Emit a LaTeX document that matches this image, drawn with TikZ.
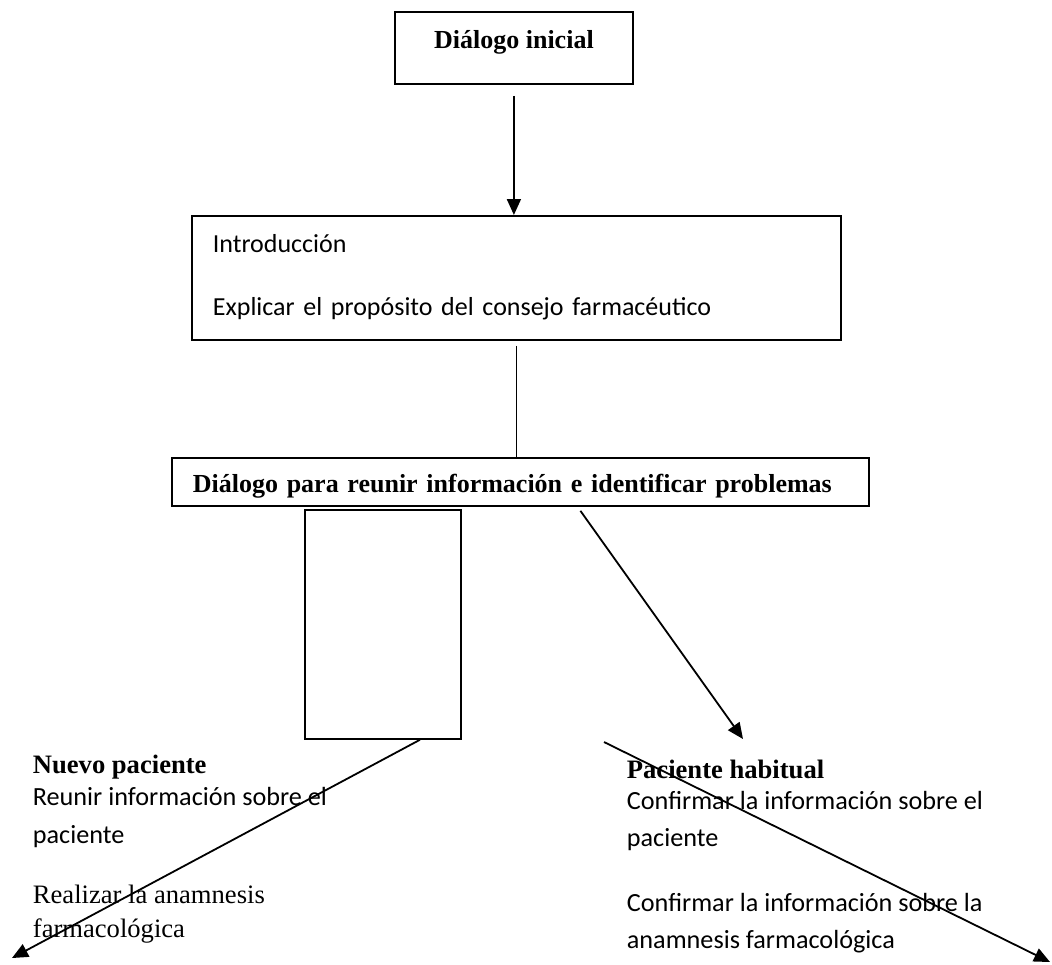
\documentclass[tikz,border=0pt]{standalone}
\usepackage{fontspec}
\setmainfont{Liberation Serif}
\newfontfamily\calibri{Carlito}
\usetikzlibrary{arrows.meta,positioning}

\begin{document}
\begin{tikzpicture}[
  x=0.5pt, y=-0.5pt,
  >={Triangle[length=8pt,width=7pt]},
  every node/.style={line width=0.9pt},
  titlebox/.style={draw, anchor=north west, inner ysep=0pt, font=\fontsize{13}{16}\selectfont\bfseries},
  textbox/.style={draw, anchor=north west, align=left, inner xsep=10.5pt, inner ysep=0pt, font=\calibri\fontsize{13}{31.5}\selectfont},
  emptybox/.style={draw, anchor=north west, inner sep=0pt},
  head/.style={anchor=base west, inner sep=0pt, font=\fontsize{13.3}{16}\selectfont\bfseries},
  body/.style={anchor=base west, inner sep=0pt, align=left, font=\calibri\fontsize{13.1}{19}\selectfont},
  bodyserif/.style={anchor=base west, inner sep=0pt, align=left, font=\fontsize{13.3}{17}\selectfont},
  arrow/.style={->, line width=0.9pt},
  link/.style={line width=0.9pt}
]
\useasboundingbox (0,0) rectangle (1052,964);

\node[titlebox, minimum width=119pt, text height=18.5pt, text depth=17.5pt] (dinicial) at (394,11) {Diálogo inicial};
\node[textbox, text width=303.5pt, text height=18.5pt, text depth=43.5pt] (intro) at (191,215) {Introducción\\Explicar el propósito del consejo farmacéutico};
\node[titlebox, align=left, text width=327.5pt, inner xsep=10.5pt, text height=17.5pt, text depth=6.5pt] (reunir) at (171,457) {Diálogo para reunir información e identificar problemas};
\node[emptybox, minimum width=78pt, minimum height=114.5pt] (tallbox) at (304,509) {};

% multi-line nodes sit on the baseline of their last line
\node[head] (nuevo) at (32,773) {Nuevo paciente};
\node[body] (nuevotxt) at (32,843) {Reunir información sobre el\\paciente};
\node[bodyserif] (anamnesis) at (32,937) {Realizar la anamnesis\\farmacológica};

\node[head] (habitual) at (626,778) {Paciente habitual};
\node[body, font=\calibri\fontsize{13.1}{18.5}\selectfont] (habtxt) at (626,948) {Confirmar la información sobre el\\paciente\\[14pt]Confirmar la información sobre la\\anamnesis farmacológica};

\coordinate (habtip) at (743,739);
\coordinate (nuevotip) at (12,958);
\coordinate (cruce) at (604,742);
\coordinate (cruceend) at (1050,962);

\draw[arrow] ([yshift=-5.5pt]dinicial.south) -- (dinicial.south |- intro.north);
\draw[link] ([yshift=-2.5pt]intro.south) -- (intro.south |- reunir.north);
\draw[arrow] ([xshift=30pt,yshift=-2pt]reunir.south) -- (habtip);
\draw[arrow] ([xshift=18.5pt]tallbox.south) -- (nuevotip);
\draw[arrow] (cruce) -- (cruceend);
\end{tikzpicture}
\end{document}
